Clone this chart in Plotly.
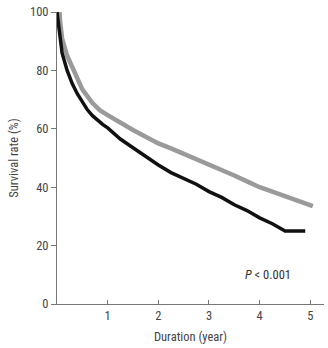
import plotly.graph_objects as go

gray_x = [0, 0.05, 0.06, 0.1, 0.2, 0.33, 0.5, 0.7, 0.85, 1.0, 1.25, 1.5, 1.75, 2.0, 2.25,
          2.5, 2.75, 3.0, 3.25, 3.5, 3.75, 4.0, 4.25, 4.5, 4.75, 4.95, 5.05]
gray_y = [100, 100, 97, 91, 85, 80, 73.5, 68.8, 66.3, 64.7, 62, 59.6, 57.3, 55, 53.3,
          51.5, 49.5, 47.6, 46, 44, 42, 40, 38.5, 37, 35.5, 34.5, 33.5]

black_x = [0, 0.02, 0.05, 0.1, 0.2, 0.3, 0.4, 0.5, 0.6, 0.7, 0.8, 0.9, 1.0, 1.25, 1.5,
           1.75, 2.0, 2.25, 2.5, 2.75, 3.0, 3.25, 3.5, 3.75, 4.0, 4.25, 4.45, 4.5, 4.9]
black_y = [100, 97, 92, 86, 80, 75.5, 72, 69, 66.5, 64.5, 62.8, 61.5, 60.3, 56.5, 53.5,
           50.5, 47.6, 45, 43, 41, 38.5, 36.5, 34, 32, 29.5, 27.5, 25.5, 25, 25]

x_ticks = [1, 2, 3, 4, 5]
y_ticks = [0, 20, 40, 60, 80, 100]

font_family = "Liberation Sans Narrow, Roboto Condensed, Arial Narrow, Liberation Sans, sans-serif"

fig = go.Figure()
fig.add_trace(go.Scatter(x=gray_x, y=gray_y, mode="lines",
                         line=dict(color="#9a9a9a", width=4.5), showlegend=False))
fig.add_trace(go.Scatter(x=black_x, y=black_y, mode="lines",
                         line=dict(color="#111111", width=3.5), showlegend=False))

fig.add_annotation(x=4.17, y=10, xref="x", yref="y", showarrow=False,
                   text="<i>P</i> < 0.001", font=dict(size=12.5, color="#333", family=font_family))

fig.update_layout(
    width=328, height=348,
    margin=dict(l=57, r=4, t=12, b=44),
    plot_bgcolor="white", paper_bgcolor="white",
    font=dict(family=font_family, size=12.5, color="#444"),
    xaxis=dict(range=[0, 5.27], tickvals=x_ticks, ticks="inside", ticklen=4,
               tickcolor="#777", showgrid=False, zeroline=False, showline=True,
               linecolor="#777", linewidth=1,
               title=dict(text="Duration (year)", standoff=10, font=dict(size=12.5))),
    yaxis=dict(range=[0, 100], tickvals=y_ticks, ticks="outside", ticklen=5,
               tickcolor="#777", showgrid=False, zeroline=False, showline=True,
               linecolor="#777", linewidth=1,
               title=dict(text="Survival rate (%)", standoff=8, font=dict(size=12.5))),
)

fig.write_html("out.html")
